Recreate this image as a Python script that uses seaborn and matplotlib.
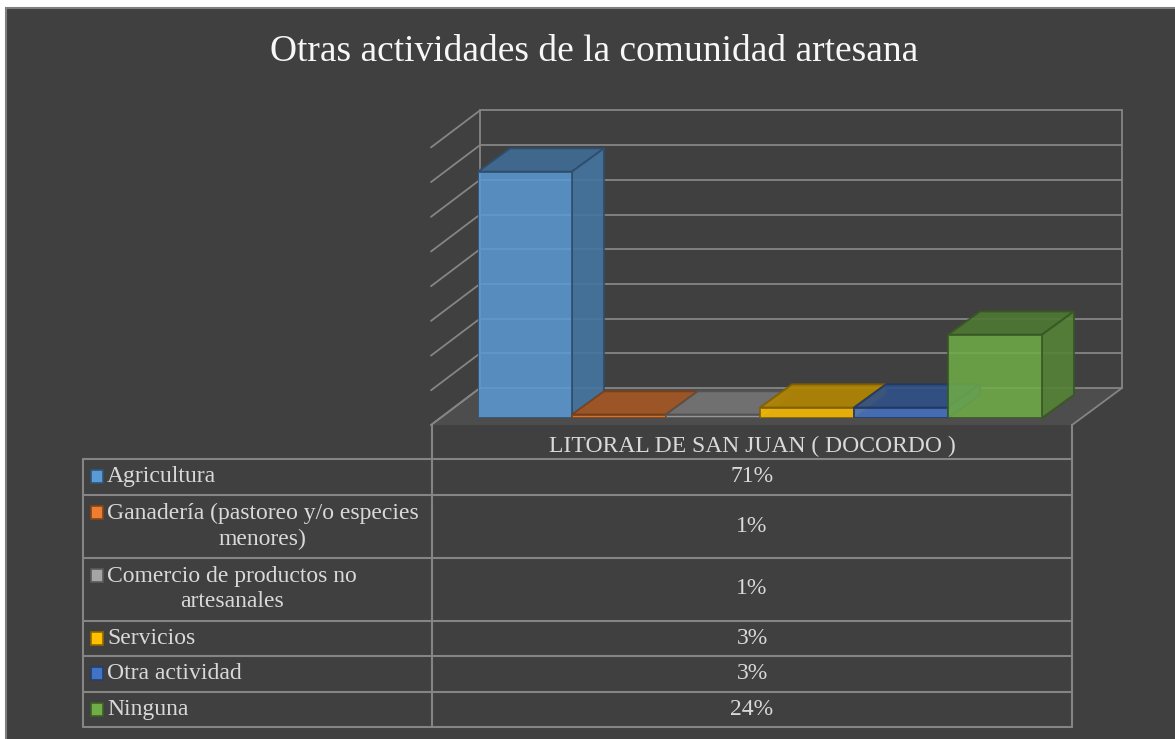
import matplotlib
matplotlib.use("Agg")
import matplotlib.pyplot as plt
import matplotlib.colors as mcolors
from matplotlib.patches import Rectangle, Polygon
import seaborn as sns

# data
categories = ["Agricultura", "Ganadería (pastoreo y/o especies menores)",
              "Comercio de productos no artesanales", "Servicios",
              "Otra actividad", "Ninguna"]
table_labels = ["Agricultura", "Ganadería (pastoreo y/o especies\nmenores)",
                "Comercio de productos no\nartesanales", "Servicios",
                "Otra actividad", "Ninguna"]
values = [71, 1, 1, 3, 3, 24]
colors = ["#5B9BD5", "#ED7D31", "#A5A5A5", "#FFC000", "#4472C4", "#70AD47"]
series_name = "LITORAL DE SAN JUAN ( DOCORDO )"
title = "Otras actividades de la comunidad artesana"

BG = "#404040"
LINE = "#858585"
TXT = "#d9d9d9"


def shade(c, f):
    r, g, b = mcolors.to_rgb(c)
    return (r * f, g * f, b * f)


sns.set_theme(style="white")
plt.rcParams["font.family"] = ["Liberation Serif", "DejaVu Serif"]

fig = plt.figure(figsize=(11.75, 7.39), dpi=100, facecolor="white")

# background axes in pixel coordinates (frame, walls, floor, table)
bg = fig.add_axes([0, 0, 1, 1])
bg.set_xlim(0, 1175)
bg.set_ylim(739, 0)
bg.axis("off")
bg.add_patch(Rectangle((6, 8), 1175, 740, facecolor=BG, edgecolor="#7f7f7f", lw=1.5))

bg.text(594, 52, title, ha="center", va="center", fontsize=27, color="#f7f7f7")

# 3d walls
step = 34.7
wall_base = 388
for k in range(9):
    y = wall_base - k * step
    bg.plot([480, 1122], [y, y], color=LINE, lw=1.3)
    bg.plot([480, 431], [y, y + 37], color=LINE, lw=1.3)
bg.plot([480, 480], [wall_base - 8 * step, wall_base], color=LINE, lw=1.3)
bg.plot([1122, 1122], [wall_base - 8 * step, wall_base], color=LINE, lw=1.3)
bg.add_patch(Polygon([(431, 425), (1072, 425), (1122, 388), (480, 388)],
                     closed=True, facecolor="#4d4d4d", edgecolor="none"))
bg.plot([1122, 1072], [388, 425], color=LINE, lw=1.3)
bg.plot([480, 431], [388, 425], color=LINE, lw=1.3)

# bars on the front plane
ax = fig.add_axes([478 / 1175, (739 - 418) / 739, (1042 - 478) / 1175, (418 - 140.4) / 739])
ax.patch.set_visible(False)
sns.barplot(x=categories, y=values, hue=categories, palette=colors, width=1.0,
            legend=False, ax=ax, alpha=0.85, saturation=1)
ax.set_xlim(-0.5, 5.5)
ax.set_ylim(0, 80)
ax.axis("off")

dx, dy = 0.34, 6.7  # depth offset in data units
bars = sorted(ax.patches, key=lambda p: p.get_x())
for i, (p, c) in enumerate(zip(bars, colors)):
    x0 = p.get_x()
    x1 = x0 + p.get_width()
    h = p.get_height()
    edge = shade(c, 0.5)
    z = 2 + i * 3
    top = Polygon([(x0, h), (x1, h), (x1 + dx, h + dy), (x0 + dx, h + dy)], closed=True,
                  facecolor=shade(c, 0.7), edgecolor=edge, lw=1.4, alpha=0.9,
                  clip_on=False, zorder=z)
    side = Polygon([(x1, 0), (x1 + dx, dy), (x1 + dx, h + dy), (x1, h)], closed=True,
                   facecolor=shade(c, 0.76), edgecolor=edge, lw=1.4, alpha=0.9,
                   clip_on=False, zorder=z + 1)
    ax.add_patch(top)
    ax.add_patch(side)
    p.set_edgecolor(edge)
    p.set_linewidth(1.4)
    p.set_zorder(z + 2)

# data table
line_h = 27.5
left = 83
rows = [459]
for lab in table_labels:
    n = lab.count("\n") + 1
    rows.append(rows[-1] + 8 + line_h * n)
bottom = rows[-1]
for y in rows:
    bg.plot([left, 1072], [y, y], color=LINE, lw=1.5)
bg.plot([left, left], [459, bottom], color=LINE, lw=1.5)
bg.plot([432, 432], [425, bottom], color=LINE, lw=1.5)
bg.plot([1072, 1072], [425, bottom], color=LINE, lw=1.5)

bg.text(752, 446, series_name, ha="center", va="center", fontsize=17, color=TXT)
for i, (lab, v, c) in enumerate(zip(table_labels, values, colors)):
    y0, y1 = rows[i], rows[i + 1]
    yc = (y0 + y1) / 2
    n = lab.count("\n") + 1
    y_first = yc - (n - 1) * line_h / 2
    bg.add_patch(Rectangle((91, y_first - 6.5), 12, 13, facecolor=c,
                           edgecolor=shade(c, 0.55), lw=1.2))
    bg.text(107, yc, lab, ha="left", va="center", multialignment="center",
            fontsize=17, color=TXT, linespacing=1.3)
    bg.text(752, yc, f"{v}%", ha="center", va="center", fontsize=17, color=TXT)

fig.savefig("out.png", dpi=100, facecolor=fig.get_facecolor())
